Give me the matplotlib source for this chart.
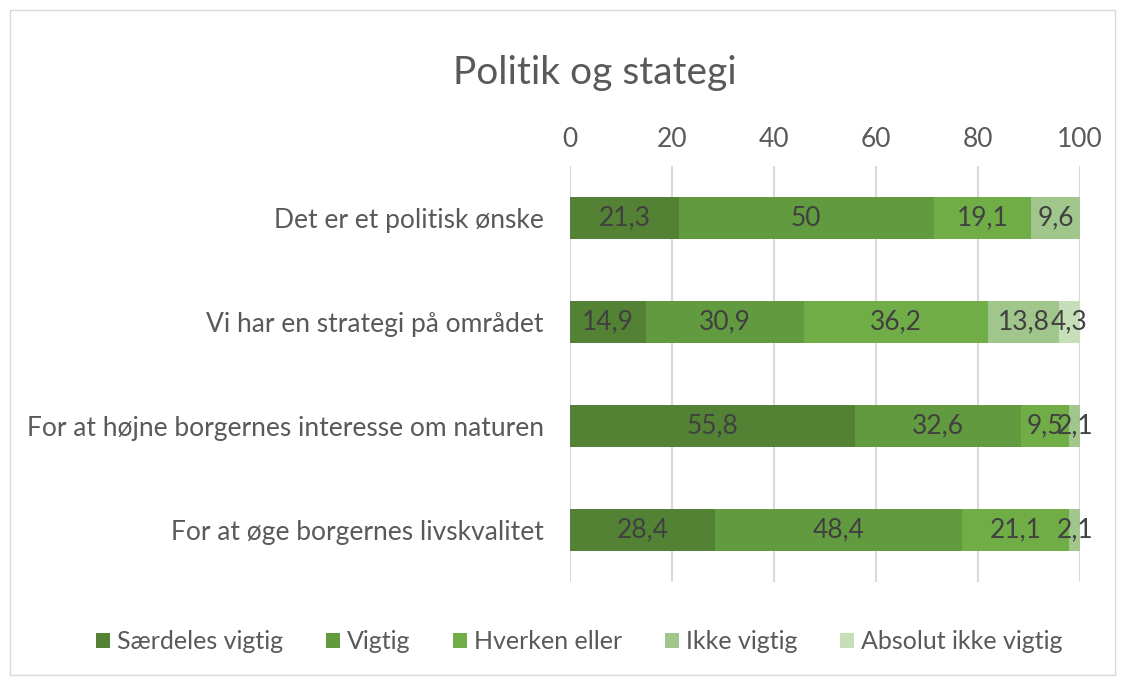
import matplotlib.pyplot as plt
import numpy as np

categories = ["Det er et politisk ønske",
              "Vi har en strategi på området",
              "For at højne borgernes interesse om naturen",
              "For at øge borgernes livskvalitet"]
series = ["Særdeles vigtig", "Vigtig", "Hverken eller", "Ikke vigtig", "Absolut ikke vigtig"]
saerdeles = [21.3, 14.9, 55.8, 28.4]
vigtig = [50, 30.9, 32.6, 48.4]
hverken = [19.1, 36.2, 9.5, 21.1]
ikke = [9.6, 13.8, 2.1, 2.1]
absolut = [0, 4.3, 0, 0]
colors = ["#548235", "#629b3f", "#70ad47", "#a0c68b", "#c6dfb8"]

plt.rcParams['font.family'] = ['Lato', 'DejaVu Sans']

fig = plt.figure(figsize=(11.25, 6.82), dpi=100)
ax = fig.add_axes([0.5067, 0.1466, 0.4533, 0.61])

# outer chart border
fig.patches.append(plt.Rectangle((0.009, 0.01), 0.982, 0.975, transform=fig.transFigure,
                                 fill=False, edgecolor="#d9d9d9", linewidth=1))

y = np.arange(len(categories))
left = np.zeros(len(categories))
for name, vals, col in zip(series, [saerdeles, vigtig, hverken, ikke, absolut], colors):
    vals = np.array(vals, dtype=float)
    bars = ax.barh(y, vals, left=left, height=0.4, color=col, label=name, zorder=3)
    for b, v in zip(bars, vals):
        if v > 0:
            ax.text(b.get_x() + b.get_width() / 2, b.get_y() + b.get_height() / 2,
                    f"{v:g}".replace(".", ","), ha="center", va="center",
                    fontsize=19, color="#404040", zorder=4)
    left += vals

ax.set_xlim(0, 100)
ax.set_ylim(len(categories) - 0.5, -0.5)
ax.set_yticks(y)
ax.set_yticklabels(categories, fontsize=19, color="#595959")
ax.set_xticks(np.arange(0, 101, 20))
ax.xaxis.tick_top()
ax.tick_params(axis="x", length=0, pad=10, labelsize=19, labelcolor="#595959")
ax.tick_params(axis="y", length=0, pad=19)
ax.grid(axis="x", color="#d9d9d9", linewidth=1.5, zorder=0)
for s in ax.spines.values():
    s.set_visible(False)

fig.text(0.529, 0.893, "Politik og stategi", ha="center", va="center",
         fontsize=28, color="#595959")

fig.legend(loc="center", bbox_to_anchor=(0.515, 0.059), ncol=5, frameon=False,
           fontsize=18, handlelength=0.55, handleheight=0.55, handletextpad=0.3,
           columnspacing=1.7, labelcolor="#595959")

plt.savefig("out.png", dpi=100)
